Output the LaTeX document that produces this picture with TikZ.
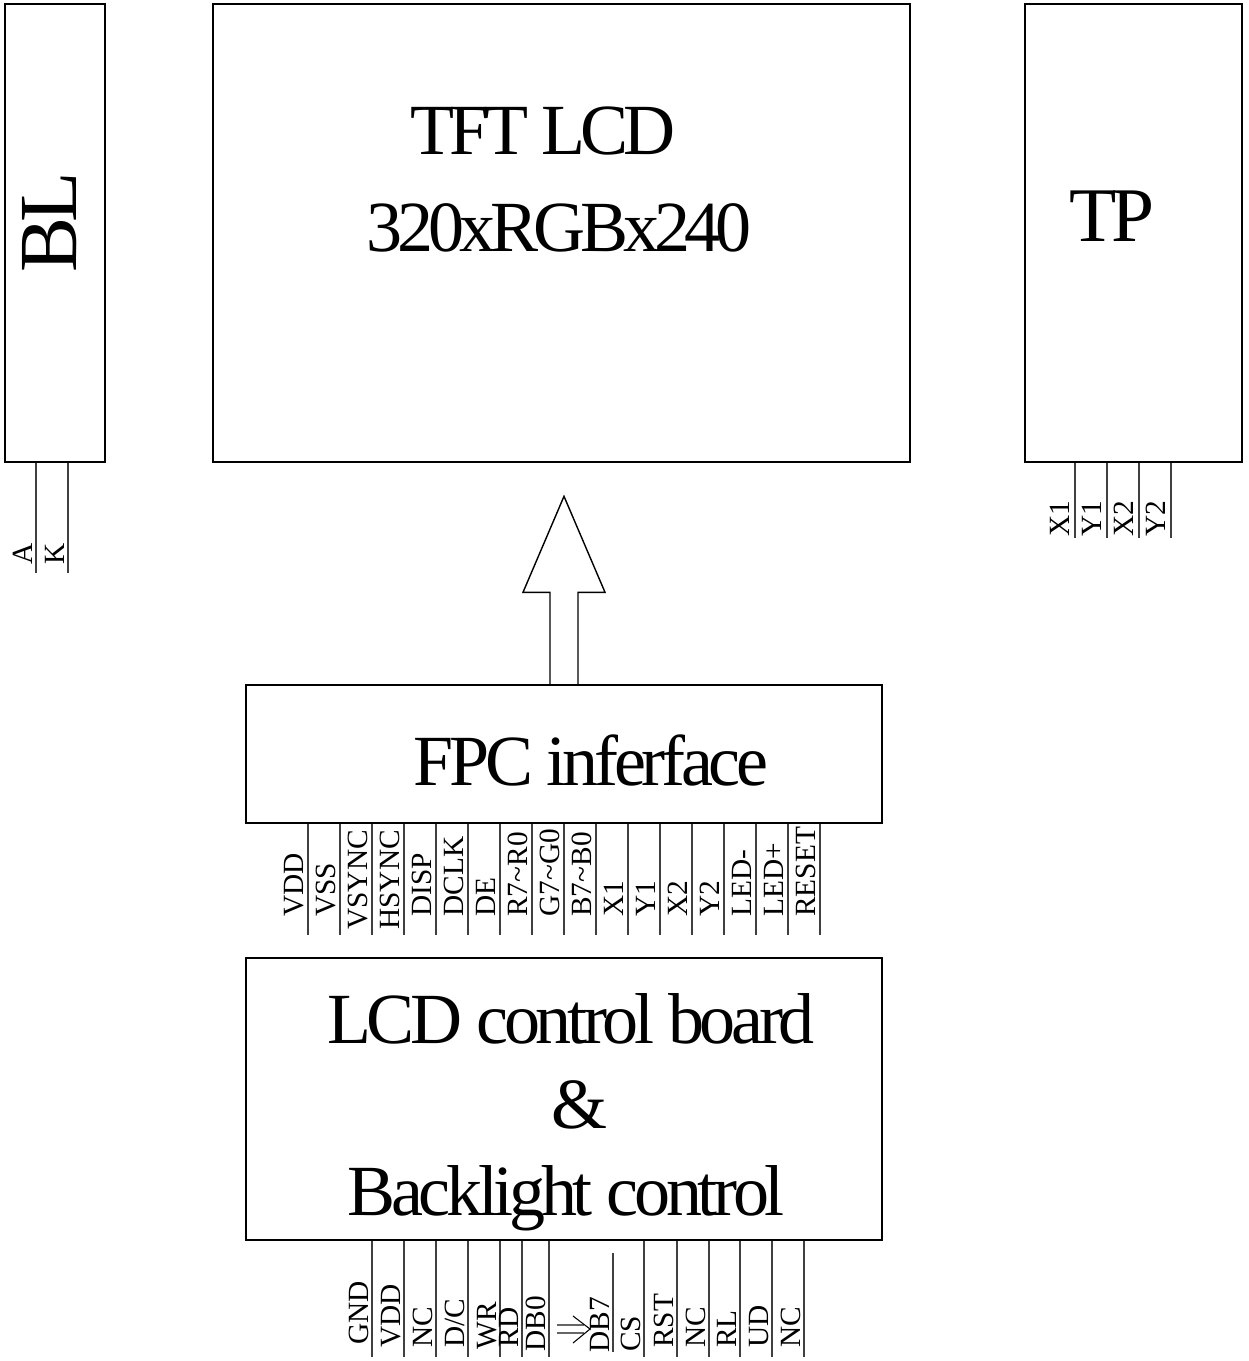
\documentclass[tikz,border=0pt]{standalone}
\usepackage{fontspec}
\setmainfont{Liberation Serif}
\newfontfamily\tightfont[LetterSpace=-7]{Liberation Serif}
\newfontfamily\boardfont[LetterSpace=-6]{Liberation Serif}
\usetikzlibrary{calc}

\begin{document}
\begin{tikzpicture}[x=0.02cm,y=-0.02cm]
  \tikzset{
    blockbox/.style={draw=black, line width=0.8pt, inner sep=0pt},
    blocktitle/.style={font=\tightfont\fontsize{41}{49}\selectfont, anchor=base, inner sep=0pt},
    boardtitle/.style={blocktitle, font=\boardfont\fontsize{41}{49}\selectfont},
    pinline/.style={draw=black!75, line width=0.6pt},
    pinlabel/.style={font=\fontsize{16.7}{20}\selectfont, rotate=90, anchor=base west, inner sep=0pt}
  }
  \path[use as bounding box] (0,0) rectangle (1248,1361);

  \node[blockbox,minimum width=2cm,minimum height=9.16cm] (bl) at (55,233) {};
  \node[blockbox,minimum width=13.94cm,minimum height=9.16cm] (lcd) at (561.5,233) {};
  \node[blockbox,minimum width=4.34cm,minimum height=9.16cm] (tp) at (1133.5,233) {};
  \node[blockbox,minimum width=12.72cm,minimum height=2.76cm] (fpc) at (564,754) {};
  \node[blockbox,minimum width=12.72cm,minimum height=5.64cm] (ctrl) at (564,1099) {};

  \node[blocktitle,font=\tightfont\fontsize{47}{56}\selectfont,rotate=90,anchor=center] (bltitle) at (50,222.5) {BL};
  \node[blocktitle] (lcdtitle) at (543,155) {TFT LCD};
  \node[blocktitle] (lcdres) at (559,252) {320xRGBx240};
  \node[blocktitle,font=\tightfont\fontsize{44}{53}\selectfont] (tptitle) at (1112,242) {TP};
  \node[boardtitle] (fpctitle) at (591,785) {FPC inferface};
  \node[boardtitle] (ctrltitle) at (571,1043) {LCD control board};
  \node[boardtitle] (ctrland) at (580,1128) {\&};
  \node[boardtitle] (ctrlbl) at (566,1215) {Backlight control};

  % hollow bus arrow up to the panel
  \draw[line width=0.8pt] (fpc.north) ++(-14,0) -- ++(0,-92) -- ++(-27,0) -- ++(41,-96)
    -- ++(41,96) -- ++(-27,0) -- ++(0,92);

  % backlight pins
  \foreach \px/\lab in {36/A,68/K}{
    \draw[pinline] (\px,0 |- bl.south) -- (\px,573);
    \node[pinlabel] at (\px-4,565) {\lab};
  }
  % touch panel pins
  \foreach \px/\lab in {1075/X1,1107/Y1,1139/X2,1171/Y2}{
    \draw[pinline] (\px,0 |- tp.south) -- (\px,538);
    \node[pinlabel] at (\px-6,537) {\lab};
  }
  % FPC pins
  \foreach \px/\py/\lab in {308/917/VDD,340/917/VSS,372/930/VSYNC,404/930/HSYNC,436/917/DISP,
      468/917/DCLK,500/917/DE,532/917/R7\textasciitilde R0,564/917/G7\textasciitilde G0,
      596/917/B7\textasciitilde B0,628/917/X1,660/917/Y1,692/917/X2,724/917/Y2,
      756/917/LED-,788/917/LED+,820/917/RESET}{
    \draw[pinline] (\px,0 |- fpc.south) -- (\px,935);
    \node[pinlabel] at (\px-5,\py) {\lab};
  }
  % control board pins
  \foreach \px/\py/\lab in {372/1345/GND,404/1348/VDD,436/1348/NC,468/1348/{D/C},500/1350/WR,
      522/1348/RD,549/1352/DB0,644/1352/CS,677/1348/RST,709/1348/NC,740/1348/RL,
      772/1348/UD,804/1348/NC}{
    \draw[pinline] (\px,0 |- ctrl.south) -- (\px,1357);
    \node[pinlabel] at (\px-4,\py) {\lab};
  }
  \draw[pinline] (613,1253) -- (613,1352);
  \node[pinlabel] (db7) at (609,1353) {DB7};
  \draw[black!60,line width=0.6pt] (557,1325) -- (584,1325) (557,1333) -- (584,1333);
  \draw[line width=0.6pt] (573,1316) -- (590,1329) -- (573,1343);
\end{tikzpicture}
\end{document}
